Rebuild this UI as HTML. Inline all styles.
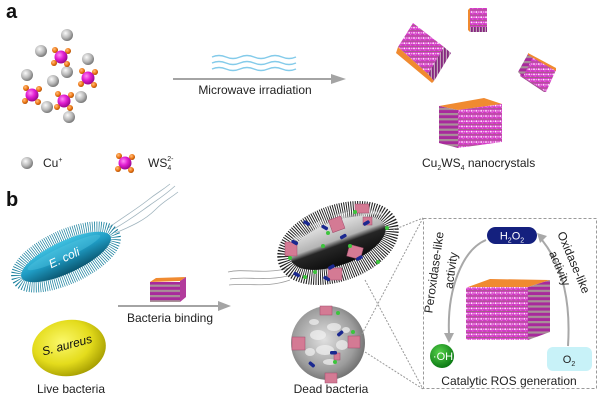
<!DOCTYPE html>
<html><head><meta charset="utf-8"><style>
html,body{margin:0;padding:0;background:#fff;}
svg{display:block;font-family:"Liberation Sans",Arial,sans-serif;}
</style></head><body>
<svg width="600" height="402" viewBox="0 0 600 402" xmlns="http://www.w3.org/2000/svg">
<defs>
<radialGradient id="cu" cx="38%" cy="35%" r="65%"><stop offset="0" stop-color="#fafafa"/><stop offset="0.6" stop-color="#b8b8b8"/><stop offset="1" stop-color="#7a7a7a"/></radialGradient>
<radialGradient id="mg" cx="38%" cy="35%" r="65%"><stop offset="0" stop-color="#ff8cf4"/><stop offset="0.5" stop-color="#e21fd2"/><stop offset="1" stop-color="#9a0890"/></radialGradient>
<radialGradient id="or" cx="38%" cy="35%" r="65%"><stop offset="0" stop-color="#ffc080"/><stop offset="0.6" stop-color="#f07a18"/><stop offset="1" stop-color="#b04e00"/></radialGradient>
<pattern id="dots" width="4.8" height="5.2" patternUnits="userSpaceOnUse">
<rect width="4.8" height="5.2" fill="#d438c8"/>
<rect y="4.4" width="4.8" height="0.8" fill="#9a6878"/>
<circle cx="1.2" cy="1.6" r="0.9" fill="#fff4fc"/>
<circle cx="3.6" cy="1.6" r="0.8" fill="#f4b8e6"/>
<circle cx="2.4" cy="3.4" r="0.5" fill="#e890d8"/>
</pattern>
<pattern id="str" width="5.2" height="5.2" patternUnits="userSpaceOnUse">
<rect width="5.2" height="5.2" fill="#a89098"/>
<rect y="0.8" width="5.2" height="3" fill="#a82a9c"/>
</pattern>
<pattern id="strv" width="3" height="5" patternUnits="userSpaceOnUse">
<rect width="3" height="5" fill="#c0a0b8"/>
<rect width="1.8" height="5" fill="#862880"/>
</pattern>
<linearGradient id="eco" x1="0" y1="0" x2="0" y2="1"><stop offset="0" stop-color="#3fc0e0"/><stop offset="0.45" stop-color="#1f9cc4"/><stop offset="1" stop-color="#0a5670"/></linearGradient>
<radialGradient id="sau" cx="42%" cy="38%" r="65%"><stop offset="0" stop-color="#fbf86a"/><stop offset="0.6" stop-color="#e4dc1c"/><stop offset="1" stop-color="#a49c00"/></radialGradient>
<linearGradient id="rod" x1="0" y1="0" x2="0" y2="1"><stop offset="0" stop-color="#e2e2e2"/><stop offset="0.42" stop-color="#b4b4b4"/><stop offset="0.55" stop-color="#262626"/><stop offset="1" stop-color="#0c0c0c"/></linearGradient>
<radialGradient id="sph" cx="45%" cy="45%" r="60%"><stop offset="0" stop-color="#e0e0e0"/><stop offset="0.7" stop-color="#9c9c9c"/><stop offset="1" stop-color="#686868"/></radialGradient>
<radialGradient id="oh" cx="40%" cy="35%" r="65%"><stop offset="0" stop-color="#56d24a"/><stop offset="1" stop-color="#0c7a14"/></radialGradient>
<g id="cusp"><circle r="6" fill="url(#cu)"/></g>
<g id="ws4">
<circle cx="-6" cy="-7" r="3" fill="url(#or)"/><circle cx="7" cy="-6" r="3" fill="url(#or)"/>
<circle r="6.5" fill="url(#mg)"/>
<circle cx="-7" cy="6" r="3" fill="url(#or)"/><circle cx="6" cy="7" r="3" fill="url(#or)"/>
</g>
</defs>

<!-- Panel a -->
<text x="6" y="18" font-size="20" font-weight="bold" fill="#111">a</text>
<use href="#cusp" x="67" y="35"/><use href="#cusp" x="41" y="51"/><use href="#cusp" x="88" y="59"/>
<use href="#cusp" x="27" y="75"/><use href="#cusp" x="67" y="72"/><use href="#cusp" x="53" y="81"/>
<use href="#cusp" x="81" y="97"/><use href="#cusp" x="47" y="107"/><use href="#cusp" x="69" y="117"/>
<use href="#ws4" x="61" y="57"/><use href="#ws4" x="88" y="78"/><use href="#ws4" x="32" y="95"/><use href="#ws4" x="64" y="101"/>
<use href="#cusp" x="27" y="163"/>
<text x="43" y="167" font-size="12" fill="#222">Cu<tspan dy="-5" font-size="7">+</tspan></text>
<use href="#ws4" x="125" y="163"/>
<text x="148" y="167" font-size="12" fill="#222">WS<tspan dy="3" font-size="7">4</tspan><tspan dx="-4" dy="-9" font-size="7">2-</tspan></text>

<!-- microwave arrow -->
<g fill="none" stroke="#84cbea" stroke-width="1.4">
<path d="M212,57 q7,-3 14,0 t14,0 t14,0 t14,0 t14,0 t14,0"/>
<path d="M212,63 q7,-3 14,0 t14,0 t14,0 t14,0 t14,0 t14,0"/>
<path d="M212,69 q7,-3 14,0 t14,0 t14,0 t14,0 t14,0 t14,0"/>
</g>
<line x1="173" y1="79" x2="332" y2="79" stroke="#a4a4a4" stroke-width="2"/>
<polygon points="331,74 346,79 331,84" fill="#a4a4a4"/>
<text x="255" y="94" font-size="12" fill="#222" text-anchor="middle">Microwave irradiation</text>

<!-- nanocrystals a -->
<g>
<polygon points="468,10 470,8 470,32 468,30" fill="#f08a30"/>
<rect x="470" y="8" width="17" height="19" fill="url(#dots)"/>
<rect x="470" y="27" width="17" height="5" fill="url(#strv)"/>
</g>
<g>
<polygon points="413,23 444,47 428,74 398,47" fill="url(#dots)"/>
<polygon points="444,47 451,53 434,81 428,74" fill="url(#strv)"/>
<polygon points="398,47 428,74 434,81 432,83 396,53" fill="#f08a30"/>
</g>
<g>
<polygon points="528,54 556,70 546,92 520,76" fill="url(#dots)"/>
<polygon points="518,72 528,54 533,57 523,77" fill="url(#str)"/>
<polygon points="528,53 556,68 556,71 528,55" fill="#f08a30"/>
<polygon points="520,76 523,77 546,92 544,92" fill="#a05090"/>
</g>
<g>
<polygon points="439,106 458,110 502,104 484,98" fill="#f08a30"/>
<polygon points="439,106 458,110 458,148 439,143" fill="url(#str)"/>
<polygon points="458,110 502,104 502,142 458,148" fill="url(#dots)"/>
</g>
<text x="422" y="167" font-size="12" fill="#222">Cu<tspan dy="3" font-size="7">2</tspan><tspan dy="-3">WS</tspan><tspan dy="3" font-size="7">4</tspan><tspan dy="-3"> nanocrystals</tspan></text>

<!-- Panel b -->
<text x="6" y="206" font-size="20" font-weight="bold" fill="#111">b</text>

<!-- E. coli -->
<g fill="none" stroke="#9fb3bd" stroke-width="0.8">
<path d="M112,230 C130,220 140,212 150,205 S165,195 175,186"/>
<path d="M115,233 C132,226 145,220 155,210 S168,200 178,192"/>
<path d="M108,228 C125,216 138,208 148,200 S160,192 170,184"/>
</g>
<g transform="translate(66,257) rotate(-25)">
<ellipse rx="52" ry="20" fill="none" stroke="#157e9c" stroke-width="14" stroke-dasharray="0.7 1.4"/>
<ellipse rx="49" ry="16" fill="url(#eco)"/>
<ellipse rx="40" ry="6" cy="-5" fill="#5ccbe6" opacity="0.35"/>
<text x="-2" y="4" font-size="12" font-style="italic" fill="#fff" text-anchor="middle">E. coli</text>
</g>

<!-- S. aureus -->
<g transform="translate(69,348) rotate(-8)">
<ellipse rx="37" ry="28" fill="url(#sau)"/>
</g>
<text transform="translate(68,349) rotate(-15)" font-size="12" font-style="italic" fill="#111" text-anchor="middle">S. aureus</text>
<text x="71" y="393" font-size="12" fill="#222" text-anchor="middle">Live bacteria</text>

<!-- binding arrow -->
<g>
<polygon points="150,282 156,278 186,277 180,281" fill="#f08a30"/>
<rect x="150" y="282" width="30" height="20" fill="url(#str)"/>
<polygon points="180,281 186,277 186,297 180,302" fill="#b23c9c"/>
</g>
<line x1="118" y1="306" x2="219" y2="306" stroke="#a4a4a4" stroke-width="2"/>
<polygon points="218,301 231,306 218,311" fill="#a4a4a4"/>
<text x="170" y="322" font-size="12" fill="#222" text-anchor="middle">Bacteria binding</text>

<!-- dead rod -->
<g fill="none" stroke="#9a9a9a" stroke-width="0.8">
<path d="M228,272 C245,268 262,275 290,268"/>
<path d="M230,279 C248,276 265,282 292,275"/>
<path d="M229,285 C250,283 268,288 290,280"/>
</g>
<g transform="translate(338,243) rotate(-20)">
<ellipse rx="53" ry="28" fill="none" stroke="#1e1e1e" stroke-width="20" stroke-dasharray="0.9 1.2"/>
<ellipse rx="50" ry="22" fill="url(#rod)"/>
<path d="M-52,-12 Q0,-36 52,-12" fill="none" stroke="#d8d8d8" stroke-width="7" stroke-dasharray="0.8 1.4" opacity="0.8"/>
</g>
<g fill="#d47a94" stroke="#a04a6a" stroke-width="0.5">
<rect x="330" y="218" width="13" height="13" transform="rotate(-20 336 224)"/>
<rect x="355" y="204" width="14" height="9"/>
<rect x="285" y="242" width="12" height="14"/>
<rect x="348" y="246" width="14" height="12" transform="rotate(15 355 252)"/>
<rect x="328" y="268" width="14" height="12"/>
<rect x="363" y="217" width="9" height="8"/>
</g>
<g fill="#1a2890">
<rect x="303" y="221" width="7" height="3.5" rx="1.5" transform="rotate(30 306 223)"/>
<rect x="321" y="226" width="7" height="3.5" rx="1.5" transform="rotate(30 325 228)"/>
<rect x="340" y="235" width="7" height="3.5" rx="1.5" transform="rotate(-30 343 237)"/>
<rect x="291" y="241" width="7" height="3.5" rx="1.5" transform="rotate(30 295 243)"/>
<rect x="356" y="256" width="7" height="3.5" rx="1.5" transform="rotate(-30 360 258)"/>
<rect x="293" y="273" width="7" height="3.5" rx="1.5" transform="rotate(30 297 275)"/>
<rect x="323" y="277" width="7" height="3.5" rx="1.5" transform="rotate(30 327 279)"/>
<rect x="328" y="265" width="7" height="3.5" rx="1.5" transform="rotate(-30 332 267)"/>
<rect x="363" y="221" width="7" height="3.5" rx="1.5" transform="rotate(-30 367 223)"/>
</g>
<g fill="#3cc43c">
<circle cx="328" cy="233" r="2"/><circle cx="387" cy="228" r="2"/><circle cx="323" cy="246" r="2"/>
<circle cx="290" cy="258" r="2"/><circle cx="315" cy="272" r="2"/><circle cx="305" cy="277" r="2"/>
<circle cx="378" cy="262" r="2"/><circle cx="355" cy="212" r="2"/><circle cx="350" cy="246" r="2"/>
</g>

<!-- dead sphere -->
<circle cx="328" cy="343" r="37" fill="url(#sph)"/>
<g fill="#f2f2f2" opacity="0.7">
<ellipse cx="318" cy="335" rx="8" ry="5"/><ellipse cx="334" cy="327" rx="7" ry="4"/>
<ellipse cx="325" cy="350" rx="9" ry="5"/><ellipse cx="342" cy="345" rx="6" ry="5"/>
<ellipse cx="310" cy="352" rx="5" ry="4"/><ellipse cx="330" cy="362" rx="7" ry="3"/>
<ellipse cx="346" cy="330" rx="4" ry="3"/><ellipse cx="314" cy="322" rx="5" ry="3"/>
</g>
<g fill="#d47a94" stroke="#a04a6a" stroke-width="0.5">
<rect x="320" y="306" width="12" height="9"/>
<rect x="292" y="337" width="13" height="13"/>
<rect x="348" y="336" width="12" height="12"/>
<rect x="325" y="373" width="12" height="10"/>
<rect x="334" y="353" width="6" height="7"/>
</g>
<g fill="#1a2890">
<rect x="337" y="332" width="7" height="3.5" rx="1.5" transform="rotate(-40 340 334)"/>
<rect x="308" y="363" width="7" height="3.5" rx="1.5" transform="rotate(40 312 365)"/>
<rect x="330" y="351" width="7" height="3.5" rx="1.5"/>
</g>
<g fill="#3cc43c">
<circle cx="338" cy="313" r="2"/><circle cx="353" cy="332" r="2"/><circle cx="335" cy="362" r="2"/>
</g>
<text x="331" y="393" font-size="12" fill="#222" text-anchor="middle">Dead bacteria</text>

<!-- zoom lines -->
<g stroke="#999" stroke-width="1" stroke-dasharray="2 1.5" fill="none">
<line x1="393" y1="230" x2="423" y2="218"/>
<line x1="423" y1="218" x2="362" y2="334"/>
<line x1="365" y1="280" x2="423" y2="389"/>
<line x1="365" y1="352" x2="423" y2="389"/>
</g>
<rect x="423.5" y="218.5" width="173" height="170" fill="none" stroke="#9a9a9a" stroke-width="1" stroke-dasharray="3 2"/>

<!-- box content -->
<rect x="487" y="227" width="50" height="17" rx="8.5" fill="#14207e"/>
<text x="512" y="239.5" font-size="11" fill="#fff" text-anchor="middle">H<tspan dy="3" font-size="7">2</tspan><tspan dy="-3">O</tspan><tspan dy="3" font-size="7">2</tspan></text>

<path d="M486,240 C462,250 447,290 449,334" fill="none" stroke="#a8a8a8" stroke-width="2"/>
<polygon points="444,333 454,333 449,343" fill="#a8a8a8"/>
<path d="M568,346 C571,300 562,265 542,240" fill="none" stroke="#a8a8a8" stroke-width="2"/>
<polygon points="537,233 547,236 540,243" fill="#a8a8a8"/>

<text transform="translate(438,273) rotate(-82)" font-size="12" fill="#222" text-anchor="middle">Peroxidase-like</text>
<text transform="translate(455,271) rotate(-82)" font-size="12" fill="#222" text-anchor="middle">activity</text>
<text transform="translate(570,264) rotate(67)" font-size="12" fill="#222" text-anchor="middle">Oxidase-like</text>
<text transform="translate(556,270) rotate(67)" font-size="12" fill="#222" text-anchor="middle">activity</text>

<g>
<polygon points="468,287 528,287 550,280 490,279" fill="#f08a30"/>
<rect x="466" y="287" width="62" height="53" fill="url(#dots)"/>
<polygon points="528,287 550,280 550,332 528,340" fill="url(#str)"/>
</g>

<circle cx="442" cy="356" r="12" fill="url(#oh)"/>
<text x="443" y="360" font-size="11" fill="#fff" text-anchor="middle">·OH</text>
<rect x="547" y="347" width="45" height="24" rx="6" fill="#c8f2f8"/>
<text x="569" y="363" font-size="11" fill="#222" text-anchor="middle">O<tspan dy="3" font-size="7">2</tspan></text>
<text x="509" y="385" font-size="12" fill="#222" text-anchor="middle">Catalytic ROS generation</text>
</svg>
</body></html>
